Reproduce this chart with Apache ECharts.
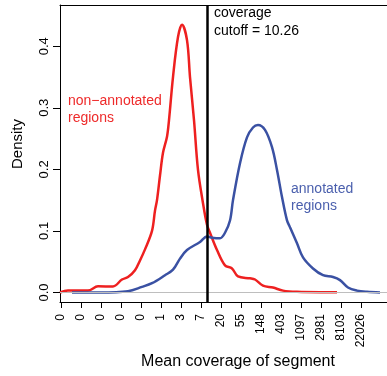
<!DOCTYPE html>
<html>
<head>
<meta charset="utf-8">
<script src="https://cdn.jsdelivr.net/npm/echarts@6/dist/echarts.min.js"></script>
<style>html,body{margin:0;padding:0;background:#fff;}#c{width:387px;height:376px;}</style>
</head>
<body>
<div id="c"></div>
<script>
// x values are natural-log coverage; tick labels are rounded exp(x)
var xTickPositions = [-5,-4,-3,-2,-1,0,1,2,3,4,5,6,7,8,9,10];
var xTickLabels = ["0","0","0","0","0","1","3","7","20","55","148","403","1097","2981","8103","22026"];
var yTicks = [0, 0.1, 0.2, 0.3, 0.4];
var cutoffValue = 10.26;

var nonAnnotatedX = [-5.05,-4.65,-3.65,-3.15,-2.4,-1.95,-1.65,-1.3,-1.05,-0.8,-0.45,-0.3,-0.2,-0.05,0.1,0.3,0.4,0.6,0.85,1.05,1.3,1.45,1.65,1.85,2.1,2.3,2.45,2.8,3.2,3.55,3.85,4.45,4.7,5.1,5.6,6.1,6.8,7.95,8.8];
var nonAnnotatedY = [0.0,0.003,0.003,0.01,0.0097,0.021,0.025,0.036,0.052,0.07,0.10,0.133,0.15,0.19,0.227,0.253,0.28,0.35,0.415,0.435,0.41,0.35,0.28,0.199,0.145,0.11,0.097,0.069,0.044,0.039,0.026,0.023,0.021,0.011,0.008,0.003,0.001,0.0005,0.0005];

var annotatedX = [-4.45,-3.05,-1.65,-0.95,-0.45,0.2,0.6,0.95,1.3,1.95,2.3,2.55,2.95,3.2,3.45,3.6,3.95,4.3,4.6,4.85,5.2,5.55,5.8,6.05,6.3,6.45,6.8,7.1,7.6,8.1,8.6,8.95,9.35,9.8,10.3,10.95];
var annotatedY = [0,0,0.002,0.009,0.015,0.028,0.037,0.055,0.069,0.082,0.091,0.089,0.088,0.097,0.117,0.15,0.21,0.252,0.268,0.272,0.264,0.236,0.199,0.155,0.117,0.106,0.08,0.057,0.039,0.028,0.025,0.02,0.008,0.003,0.001,0];

function pairs(xs, ys){ return xs.map(function(x,i){ return [x, ys[i]]; }); }
var cutoffLog = Math.log(cutoffValue);
var FONT = '"Liberation Sans", Arial, Helvetica, sans-serif';

var chart = echarts.init(document.getElementById('c'), null, {renderer:'canvas'});
chart.setOption({
  animation: false,
  backgroundColor: '#fff',
  grid: {left: 60, top: 5, right: 0, bottom: 74, show: false},
  xAxis: [{
    type: 'value', min: -5.05, max: 11.3, position: 'bottom',
    axisLine: {show: true, onZero: false, lineStyle: {color: '#000', width: 1}},
    axisTick: {show: true, length: 6, customValues: xTickPositions, lineStyle: {color: '#000'}},
    axisLabel: {
      customValues: xTickPositions, rotate: 90, margin: 12, fontSize: 12, color: '#000', fontFamily: FONT,
      formatter: function(v){ var i = xTickPositions.indexOf(Math.round(v)); return i >= 0 ? xTickLabels[i] : ''; }
    },
    splitLine: {show: false}
  }, {
    type: 'value', min: -5.05, max: 11.3, position: 'top',
    axisLine: {show: true, onZero: false, lineStyle: {color: '#000', width: 1}},
    axisTick: {show: false}, axisLabel: {show: false}, splitLine: {show: false}
  }],
  yAxis: {
    type: 'value', min: -0.0155, max: 0.467,
    axisLine: {show: true, onZero: false, lineStyle: {color: '#000', width: 1}},
    axisTick: {show: true, length: 7, customValues: yTicks, lineStyle: {color: '#000'}},
    axisLabel: {
      customValues: yTicks, rotate: 90, margin: 9, fontSize: 13, color: '#000', fontFamily: FONT,
      formatter: function(v){ return v.toFixed(1); }
    },
    splitLine: {show: false}
  },
  series: [
    {type: 'line', data: pairs(nonAnnotatedX, nonAnnotatedY), showSymbol: false, smooth: 0.35,
     lineStyle: {color: '#ee2020', width: 2.5}, z: 2},
    {type: 'line', data: pairs(annotatedX, annotatedY), showSymbol: false, smooth: 0.35,
     lineStyle: {color: '#3a51a3', width: 2.5}, z: 2},
    {type: 'line', data: [[cutoffLog, 0]], showSymbol: false, lineStyle: {width: 0}, z: 5,
     markLine: {silent: true, symbol: 'none', label: {show: false}, animation: false,
       data: [
         {yAxis: 0, lineStyle: {color: '#bebebe', width: 1, type: 'solid'}},
         {xAxis: cutoffLog, lineStyle: {color: '#000', width: 2.5, type: 'solid'}}
       ]}}
  ],
  graphic: [
    {type: 'text', left: 68, top: 92.5, style: {text: 'non\u2212annotated\nregions', fill: '#ee2a2a', font: '14px ' + FONT, lineHeight: 17}},
    {type: 'text', left: 291, top: 180.5, style: {text: 'annotated\nregions', fill: '#4a5fad', font: '14px ' + FONT, lineHeight: 17}},
    {type: 'text', left: 214, top: 4, style: {text: 'coverage\ncutoff = 10.26', fill: '#000', font: '14px ' + FONT, lineHeight: 18}},
    {type: 'text', x: 18, y: 144, rotation: Math.PI/2, style: {text: 'Density', fill: '#000', font: '15px ' + FONT, align: 'center', verticalAlign: 'middle'}},
    {type: 'text', x: 238, y: 362, style: {text: 'Mean coverage of segment', fill: '#000', font: '16px ' + FONT, align: 'center', verticalAlign: 'middle'}}
  ]
});
</script>
</body>
</html>
